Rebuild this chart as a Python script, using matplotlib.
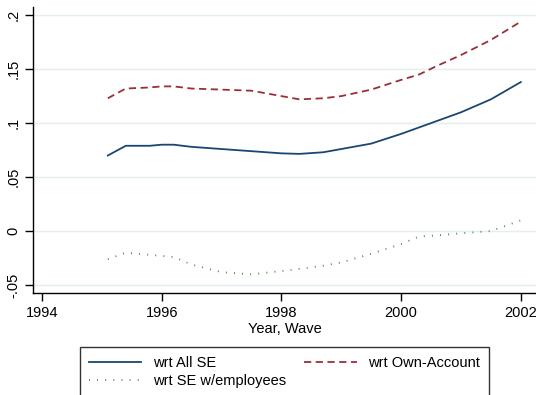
import matplotlib
matplotlib.use('Agg')
import matplotlib.pyplot as plt
import numpy as np

plt.rcParams['font.family'] = ['Liberation Sans', 'DejaVu Sans']

# smoothed estimates by survey year
years = [1995.1, 1995.4, 1995.8, 1996.0, 1996.2, 1996.5, 1997.0, 1997.5, 1998.0, 1998.3,
         1998.7, 1999.0, 1999.5, 2000.0, 2000.3, 2000.6, 2001.0, 2001.5, 2002.0]
all_se = [0.070, 0.079, 0.079, 0.080, 0.080, 0.078, 0.076, 0.074, 0.072, 0.0715,
          0.073, 0.076, 0.081, 0.090, 0.096, 0.102, 0.110, 0.122, 0.138]
own_acct = [0.123, 0.132, 0.133, 0.134, 0.134, 0.132, 0.131, 0.130, 0.125, 0.122,
            0.123, 0.125, 0.131, 0.140, 0.145, 0.153, 0.163, 0.177, 0.194]
se_emp = [-0.026, -0.020, -0.022, -0.023, -0.024, -0.031, -0.038, -0.040, -0.037, -0.035,
          -0.032, -0.029, -0.021, -0.012, -0.005, -0.004, -0.002, 0.000, 0.010]

xticks = [1994, 1996, 1998, 2000, 2002]
yticks = [-0.05, 0, 0.05, 0.1, 0.15, 0.2]
ylabels = ['-.05', '0', '.05', '.1', '.15', '.2']

fig = plt.figure(figsize=(5.36, 3.95), dpi=100)
ax = fig.add_axes([0.0616, 0.258, 0.938, 0.724])

l1, = ax.plot(years, all_se, color='#1a476f', lw=1.3, label='wrt All SE')
l2, = ax.plot(years, own_acct, color='#983038', lw=1.3, ls=(0, (4, 2.5)), label='wrt Own-Account')
l3, = ax.plot(years, se_emp, color='#55752f', lw=1.3, ls=(0, (0.5, 4)), label='wrt SE w/employees')

ax.set_xlim(1993.85, 2002.25)
ax.set_ylim(-0.0574, 0.2074)
ax.set_xticks(xticks)
ax.set_yticks(yticks)
ax.set_yticklabels(ylabels, rotation=90, va='center')
ax.tick_params(labelsize=10.5, direction='out', length=6, width=1, colors='black', pad=3)
ax.grid(axis='y', color='#e3eeee', lw=1)
ax.set_axisbelow(True)
for s in ['top', 'right']:
    ax.spines[s].set_visible(False)
ax.spines['left'].set_linewidth(1)
ax.spines['bottom'].set_linewidth(1)
ax.set_xlabel('Year, Wave', fontsize=10.5, labelpad=2)

leg = fig.legend([l1, l3, l2], [l1.get_label(), l3.get_label(), l2.get_label()],
                 loc='upper left', bbox_to_anchor=(0.149, -0.05, 0.763, 0.1715),
                 mode='expand', ncol=2, fontsize=10.5, frameon=True, fancybox=False,
                 edgecolor='black', handlelength=3.6, handletextpad=0.8,
                 borderaxespad=0, labelspacing=0.3, borderpad=0.6)
leg.get_frame().set_linewidth(1)

fig.savefig('out.png', dpi=100)
